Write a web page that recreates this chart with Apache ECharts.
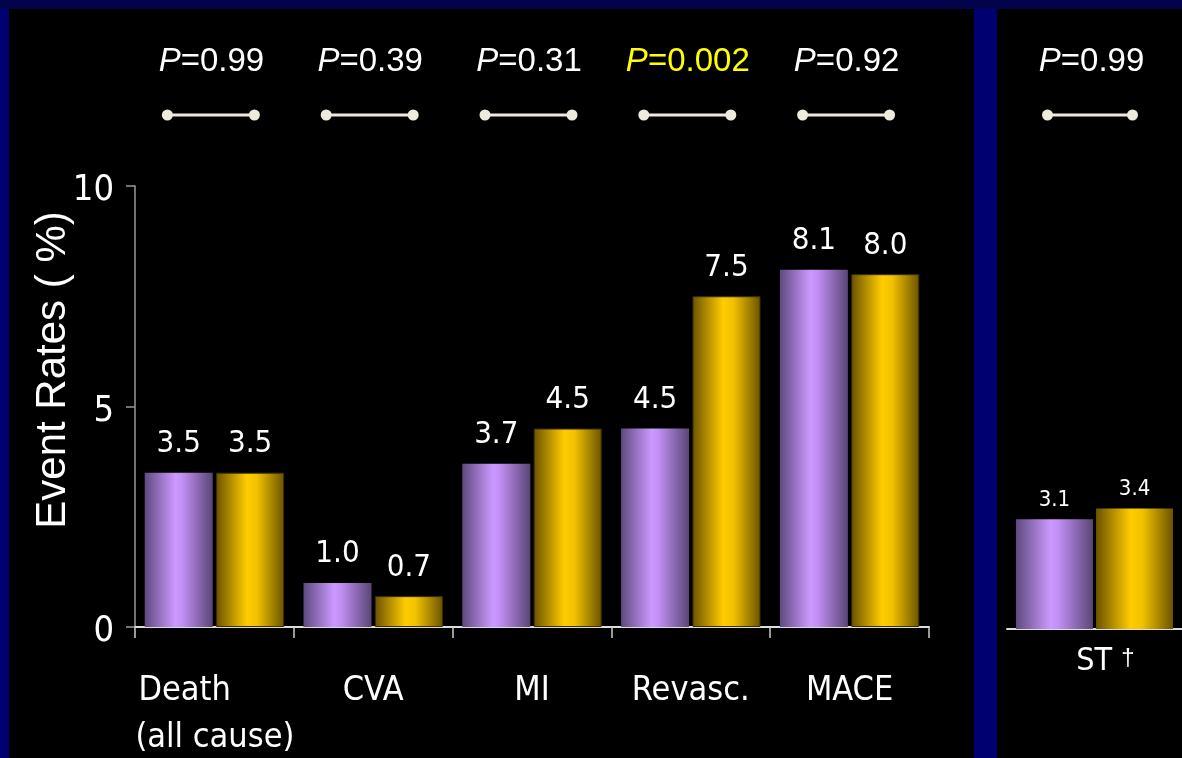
<!DOCTYPE html>
<html>
<head>
<meta charset="utf-8">
<script src="https://cdn.jsdelivr.net/npm/echarts@6/dist/echarts.min.js"></script>
<style>
  html, body { margin: 0; padding: 0; background: #000070; }
  #wrap { position: relative; width: 1182px; height: 758px; overflow: hidden; background: #000070; }
  .topstrip { position: absolute; left: 0; top: 0; width: 1182px; height: 9px; background: #03034c; }
  .panel { position: absolute; top: 9px; height: 749px; background: #000; }
  #main { position: absolute; left: 0; top: 0; width: 1182px; height: 758px; }
</style>
</head>
<body>
<div id="wrap">
  <div class="topstrip"></div>
  <div class="panel" style="left:9px; width:965px;"></div>
  <div class="panel" style="left:997px; width:185px;"></div>
  <div id="main"></div>
</div>
<script>
// data
var categories = ['Death\n(all cause)', 'CVA', 'MI', 'Revasc.', 'MACE'];
var purpleValues = [3.5, 1.0, 3.7, 4.5, 8.1];
var goldValues = [3.5, 0.7, 4.5, 7.5, 8.0];
var pValues = ['0.99', '0.39', '0.31', '0.002', '0.92'];

var stCategories = ['ST'];
var stPurple = [3.1];
var stGold = [3.4];
var stPValues = ['0.99'];

var yTicks = [0, 5, 10];

var narrow = "'Liberation Sans Narrow', 'DejaVu Sans Condensed', sans-serif";
var regular = "'Liberation Sans', 'DejaVu Sans', sans-serif";

var myChart = echarts.init(document.getElementById('main'), null, { renderer: 'canvas' });

// 圆柱效果的渐变
function purpleFill() {
  return new echarts.graphic.LinearGradient(0, 0, 1, 0, [
    { offset: 0, color: '#5f4a80' },
    { offset: 0.45, color: '#cc99ff' },
    { offset: 0.55, color: '#c28ff5' },
    { offset: 1, color: '#5a4676' }
  ]);
}
function goldFill() {
  return new echarts.graphic.LinearGradient(0, 0, 1, 0, [
    { offset: 0, color: '#6b5200' },
    { offset: 0.45, color: '#ffcc00' },
    { offset: 0.6, color: '#f2c200' },
    { offset: 1, color: '#6b5300' }
  ]);
}

// P 值和上方的连线
function pRender(list, left, right) {
  return function (params, api) {
    var i = params.dataIndex;
    var c = api.coord([i, 0]);
    var gridTop = params.coordSys.y;
    var lineY = gridTop - 71;
    var textY = gridTop - 124;
    var p = list[i];
    var color = parseFloat(p) < 0.05 ? '#ffff00' : '#ffffff';
    var x1 = c[0] - left, x2 = c[0] + right;
    return {
      type: 'group',
      children: [
        { type: 'line', shape: { x1: x1, y1: lineY, x2: x2, y2: lineY }, style: { stroke: '#eeeadc', lineWidth: 3 } },
        { type: 'circle', shape: { cx: x1, cy: lineY, r: 5.5 }, style: { fill: '#eeeadc' } },
        { type: 'circle', shape: { cx: x2, cy: lineY, r: 5.5 }, style: { fill: '#eeeadc' } },
        {
          type: 'text',
          x: c[0] - 3, y: textY,
          style: {
            text: '{i|P}{n|=' + p + '}',
            align: 'center', verticalAlign: 'middle',
            rich: {
              i: { fontStyle: 'italic', fontFamily: regular, fontSize: 33, fill: color, color: color },
              n: { fontFamily: regular, fontSize: 33, fill: color, color: color }
            },
            fill: color
          }
        }
      ]
    };
  };
}

var valueLabel = function (size, dist) {
  return {
    show: true, position: 'top', distance: dist,
    color: '#fff', fontSize: size, fontFamily: narrow,
    formatter: function (p) { return p.value.toFixed(1); }
  };
};

var option = {
  backgroundColor: 'transparent',
  animation: false,
  graphic: [{
    type: 'text',
    x: 53, y: 370,
    rotation: Math.PI / 2,
    style: {
      text: 'Event Rates ( %)',
      fill: '#fff',
      fontSize: 42,
      fontFamily: regular,
      align: 'center',
      verticalAlign: 'middle'
    }
  }],
  grid: [
    { left: 135, top: 186, width: 794, height: 441 },
    { left: 1007, top: 186, width: 187, height: 443 }
  ],
  xAxis: [{
    type: 'category',
    gridIndex: 0,
    data: categories,
    axisLine: { lineStyle: { color: '#dddddd', width: 2 } },
    axisTick: { show: true, length: 11, lineStyle: { color: '#cccccc', width: 1.5 } },
    axisLabel: {
      interval: 0, margin: 41,
      // 两行的标签左对齐
      formatter: function (v) {
        if (v.indexOf('\n') < 0) return '{c|' + v + '}';
        return v.split('\n').map(function (s, k) { return (k === 0 ? '{f|' : '{l|') + s + '}'; }).join('\n');
      },
      rich: {
        c: { color: '#fff', fontSize: 34, fontFamily: narrow, lineHeight: 47 },
        f: { color: '#fff', fontSize: 34, fontFamily: narrow, lineHeight: 47, width: 155, align: 'left', padding: [0, 0, 0, 3] },
        l: { color: '#fff', fontSize: 34, fontFamily: narrow, lineHeight: 47, width: 158, align: 'left' }
      }
    }
  }, {
    type: 'category',
    gridIndex: 1,
    data: stCategories,
    axisLine: { lineStyle: { color: '#dddddd', width: 2 } },
    axisTick: { show: false },
    axisLabel: {
      margin: 17,
      formatter: function (v) { return '{a|' + v + ' }{b|†}'; },
      rich: {
        a: { color: '#fff', fontSize: 32, fontFamily: narrow, padding: [0, 0, 0, 22] },
        b: { color: '#fff', fontSize: 24, fontFamily: regular, verticalAlign: 'top', padding: [0, 0, 8, 0] }
      }
    }
  }],
  yAxis: [{
    type: 'value',
    gridIndex: 0,
    min: yTicks[0],
    max: yTicks[yTicks.length - 1],
    interval: yTicks[1] - yTicks[0],
    axisLine: { show: true, lineStyle: { color: '#999999', width: 1.5 } },
    axisTick: { show: true, length: 9, lineStyle: { color: '#999999', width: 1.5 } },
    splitLine: { show: false },
    axisLabel: { color: '#fff', fontSize: 36, fontFamily: narrow, margin: 21, verticalAlign: 'top', lineHeight: 10 }
  }, {
    type: 'value',
    gridIndex: 1,
    min: 0,
    max: 12.5,
    show: false,
    splitLine: { show: false }
  }],
  series: [{
    type: 'bar',
    xAxisIndex: 0, yAxisIndex: 0,
    data: purpleValues,
    barWidth: 68,
    barGap: '5%',
    itemStyle: { color: purpleFill() },
    label: valueLabel(31, 13)
  }, {
    type: 'bar',
    xAxisIndex: 0, yAxisIndex: 0,
    data: goldValues,
    barWidth: 68,
    barGap: '5%',
    itemStyle: { color: goldFill(), borderColor: '#3d3000', borderWidth: 1 },
    label: valueLabel(31, 13)
  }, {
    type: 'bar',
    xAxisIndex: 1, yAxisIndex: 1,
    data: stPurple,
    barWidth: 77,
    barGap: '4%',
    itemStyle: { color: purpleFill() },
    label: valueLabel(22, 8)
  }, {
    type: 'bar',
    xAxisIndex: 1, yAxisIndex: 1,
    data: stGold,
    barWidth: 77,
    barGap: '4%',
    itemStyle: { color: goldFill() },
    label: valueLabel(22, 8)
  }, {
    type: 'custom',
    xAxisIndex: 0, yAxisIndex: 0,
    clip: false,
    silent: true,
    renderItem: pRender(pValues, 47, 40),
    data: pValues.map(function (p, i) { return [i, 0]; })
  }, {
    type: 'custom',
    xAxisIndex: 1, yAxisIndex: 1,
    clip: false,
    silent: true,
    renderItem: pRender(stPValues, 47, 38),
    data: stPValues.map(function (p, i) { return [i, 0]; })
  }]
};

myChart.setOption(option);
</script>
</body>
</html>
